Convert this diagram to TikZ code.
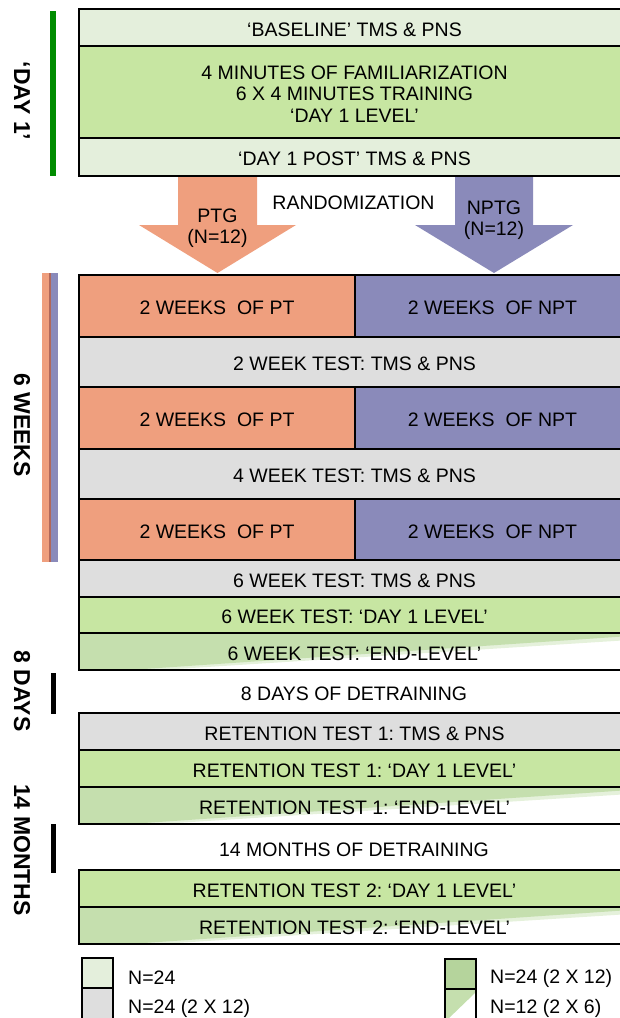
\documentclass[tikz,border=0pt]{standalone}
\usepackage{fontspec}
\setmainfont{Liberation Sans}
\frenchspacing
\definecolor{lgreen}{HTML}{E4EFDC}
\definecolor{mgreen}{HTML}{C7E6A2}
\definecolor{lgrey}{HTML}{DEDEDE}
\definecolor{ptorange}{HTML}{EF9F7E}
\definecolor{nptblue}{HTML}{8A8ABA}
\definecolor{ggreen}{HTML}{C5DFAE}
\definecolor{dkgreen}{HTML}{B5D49C}
\definecolor{bargreen}{HTML}{008C00}
\definecolor{barline}{HTML}{B0675A}
\newcommand{\mybox}[5]{%
  \node[#2, minimum height=#4] (#1) at #3 {};
  \node[txt, yshift=-2pt] (#1-t) at (#1.center) {#5};}
\begin{document}
\begin{tikzpicture}[x=1pt,y=-1pt,
  txt/.style={font=\fontsize{19.5}{21.5}\selectfont, align=center, inner sep=0pt},
  box/.style={draw=black, line width=2pt, minimum width=551pt, inner sep=0pt},
  halfl/.style={draw=black, line width=2pt, minimum width=276pt, inner sep=0pt, fill=ptorange},
  halfr/.style={draw=black, line width=2pt, minimum width=275pt, inner sep=0pt, fill=nptblue},
  lab/.style={font=\fontsize{23}{25}\bfseries\selectfont, rotate=-90, inner sep=0pt},
  legbox/.style={draw=black, line width=2pt, minimum width=31pt, inner sep=0pt},
  legtxt/.style={txt, anchor=west}
]
\useasboundingbox (0,0) rectangle (620,1018);
\clip (0,0) rectangle (620,1018);

% Day 1 block
\mybox{base}{box, fill=lgreen}{(354.5,27.5)}{37pt}{‘BASELINE’ TMS \& PNS}
\mybox{train}{box, fill=mgreen}{(354.5,92)}{92pt}{4 MINUTES OF FAMILIARIZATION\\6 X 4 MINUTES TRAINING\\‘DAY 1 LEVEL’}
\mybox{post}{box, fill=lgreen}{(354.5,157)}{38pt}{‘DAY 1 POST’ TMS \& PNS}

% arrows
\fill[ptorange] (178,177) -- (257,177) -- (257,225) -- (296,225) -- (217.5,273) -- (139,225) -- (178,225) -- cycle;
\fill[nptblue] (455,177) -- (533,177) -- (533,225) -- (573,225) -- (494,273) -- (415,225) -- (455,225) -- cycle;
\node[txt, yshift=-2pt] (ptg) at (217.5,226) {PTG\\(N=12)};
\node[txt, yshift=-2pt] (nptg) at (494,218) {NPTG\\(N=12)};
\node[txt, yshift=-2pt] (rand) at (353.5,201) {RANDOMIZATION};

% 6 weeks block
\mybox{pt1}{halfl}{(217,306)}{62pt}{2 WEEKS~ OF PT}
\mybox{npt1}{halfr}{(492.5,306)}{62pt}{2 WEEKS~ OF NPT}
\mybox{t2}{box, fill=lgrey}{(354.5,362)}{50pt}{2 WEEK TEST: TMS \& PNS}
\mybox{pt2}{halfl}{(217,418)}{62pt}{2 WEEKS~ OF PT}
\mybox{npt2}{halfr}{(492.5,418)}{62pt}{2 WEEKS~ OF NPT}
\mybox{t4}{box, fill=lgrey}{(354.5,474)}{50pt}{4 WEEK TEST: TMS \& PNS}
\mybox{pt3}{halfl}{(217,529.5)}{61pt}{2 WEEKS~ OF PT}
\mybox{npt3}{halfr}{(492.5,529.5)}{61pt}{2 WEEKS~ OF NPT}
\mybox{t6}{box, fill=lgrey}{(354.5,578.5)}{37pt}{6 WEEK TEST: TMS \& PNS}
\mybox{l6}{box, fill=mgreen}{(354.5,615)}{36pt}{6 WEEK TEST: ‘DAY 1 LEVEL’}
\fill[ggreen!45] (80,634) -- (630,634) -- (630,640) -- (160,670) -- (80,670) -- cycle;
\fill[ggreen] (80,634) -- (630,634) -- (630,636) -- (129,670) -- (80,670) -- cycle;
\mybox{e6}{box}{(354.5,651.5)}{37pt}{6 WEEK TEST: ‘END-LEVEL’}

\node[txt, yshift=-2pt] (d8) at (354,692) {8 DAYS OF DETRAINING};

% retention 1
\mybox{r1t}{box, fill=lgrey}{(354.5,731.5)}{37pt}{RETENTION TEST 1: TMS \& PNS}
\mybox{r1l}{box, fill=mgreen}{(354.5,768.5)}{37pt}{RETENTION TEST 1: ‘DAY 1 LEVEL’}
\fill[ggreen!45] (80,788) -- (630,788) -- (630,794) -- (160,824) -- (80,824) -- cycle;
\fill[ggreen] (80,788) -- (630,788) -- (630,790) -- (129,824) -- (80,824) -- cycle;
\mybox{r1e}{box}{(354.5,805.5)}{37pt}{RETENTION TEST 1: ‘END-LEVEL’}

\node[txt, yshift=-2pt] (d14) at (354,848) {14 MONTHS OF DETRAINING};

% retention 2
\mybox{r2l}{box, fill=mgreen}{(354.5,888.5)}{37pt}{RETENTION TEST 2: ‘DAY 1 LEVEL’}
\fill[ggreen!45] (80,908) -- (630,908) -- (630,914) -- (160,944) -- (80,944) -- cycle;
\fill[ggreen] (80,908) -- (630,908) -- (630,910) -- (129,944) -- (80,944) -- cycle;
\mybox{r2e}{box}{(354.5,925.5)}{37pt}{RETENTION TEST 2: ‘END-LEVEL’}

% left bars and labels
\fill[bargreen] (50,11) rectangle (56,176);
\fill[ptorange] (42,273) rectangle (49.5,562);
\fill[nptblue] (50.5,273) rectangle (58,562);
\fill[barline] (49,273) rectangle (51,562);
\fill[black] (51,673) rectangle (56,714);
\fill[black] (51,824) rectangle (56,873);
\node[lab] (ld1) at (22,101) {‘DAY 1’};
\node[lab] (l6w) at (22,425) {6 WEEKS};
\node[lab] (l8d) at (22,691) {8 DAYS};
\node[lab] (l14m) at (22,850) {14 MONTHS};

% legend
\node[legbox, fill=lgreen, minimum height=30pt] (k1) at (97.5,973) {};
\node[legbox, fill=lgrey, minimum height=32pt] (k2) at (97.5,1004) {};
\node[legtxt, yshift=-1pt] (k1t) at (128,977) {N=24};
\node[legtxt, yshift=-1pt] (k2t) at (128,1007) {N=24 (2 X 12)};
\node[legbox, fill=dkgreen, minimum height=30pt] (k3) at (460.5,973.5) {};
\fill[ggreen] (446,989) -- (475,989) -- (475,993) -- (448,1019) -- (446,1019) -- cycle;
\node[legbox, minimum height=32pt] (k4) at (460.5,1004.5) {};
\node[legtxt, yshift=-1pt] (k3t) at (490,977) {N=24 (2 X 12)};
\node[legtxt, yshift=-1pt] (k4t) at (490,1007) {N=12 (2 X 6)};
\end{tikzpicture}
\end{document}
